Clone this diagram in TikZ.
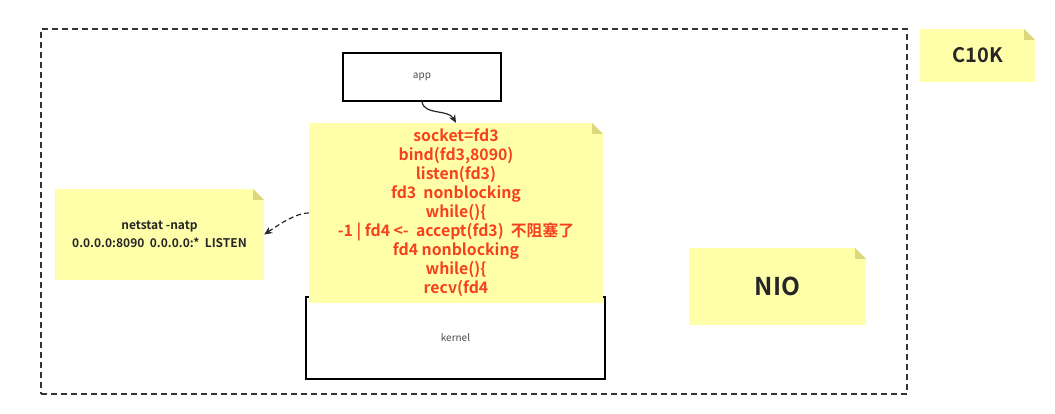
\documentclass[tikz,border=0pt]{standalone}
\usepackage{fontspec}
\setmainfont{Noto Sans CJK SC}[BoldFont={Noto Sans CJK SC Bold}]
\usepackage{tikz}
\usetikzlibrary{positioning}
\usetikzlibrary{arrows.meta}
\definecolor{noteyellow}{HTML}{FFFFAA}
\definecolor{notefold}{HTML}{DAD77C}
\definecolor{codered}{HTML}{F5411E}
\definecolor{framegray}{HTML}{333333}
\tikzset{
  note/.style={fill=noteyellow, inner sep=0pt, align=center, text=black!85,
    path picture={
      \fill[white] (path picture bounding box.north east) -- ++(-11pt,0pt) -- ++(11pt,-11pt) -- cycle;
      \fill[notefold] ([xshift=-11pt]path picture bounding box.north east) -- ++(0pt,-11pt) -- ++(11pt,0pt) -- cycle;}},
  box/.style={draw=black, line width=1.2pt, fill=white, inner sep=0pt,
    font=\fontsize{10}{12}\selectfont, text=black!70},
  link/.style={line width=1.2pt, draw=black!85, -{Stealth[length=8pt,width=7pt]}},
}

\begin{document}
\begin{tikzpicture}[x=1pt,y=-1pt]
        \useasboundingbox (0,0) rectangle (1055,414);
        \node[draw=framegray, dash pattern=on 6pt off 4pt, line width=1.2pt,
          minimum width=866pt, minimum height=365pt] (frame) at (474,211.5) {};

        \node[box, minimum width=158pt, minimum height=48pt] (app) at (422,77) {app};
        \node[box, minimum width=299pt, minimum height=82pt] (kernel) at (455.5,338) {kernel};

        \node[note, minimum width=294pt, minimum height=180pt, text=codered,
          font=\bfseries\fontsize{15.8}{19}\selectfont] (code) at (456,213)
          {socket=fd3\\bind(fd3,8090)\\listen(fd3)\\fd3\ \ nonblocking\\while()\{\\
           -1 | fd4 <-\ \ accept(fd3)\ \ 不阻塞了\\fd4 nonblocking\\while()\{\\recv(fd4};
        \node[note, minimum width=209pt, minimum height=91pt,
          font=\bfseries\fontsize{12}{18}\selectfont] (netstat) at (159.5,234.5)
          {netstat -natp\\0.0.0.0:8090\ \ 0.0.0.0:*\ \ LISTEN};
        \node[note, minimum width=115pt, minimum height=53pt,
          font=\bfseries\fontsize{20}{24}\selectfont] (c10k) at (977.5,55.5) {C10K};
        \node[note, minimum width=177pt, minimum height=77pt,
          font=\bfseries\fontsize{24.5}{28}\selectfont] (nio) at (777.5,286.5) {NIO};

        \draw[link] (app.south) .. controls +(2,14) and +(-8,-14) .. (code.north);
        \draw[link, dash pattern=on 5pt off 3pt] (code.west) .. controls +(-14,0) and +(12,-8) .. (netstat.east);
      \end{tikzpicture}
\end{document}
